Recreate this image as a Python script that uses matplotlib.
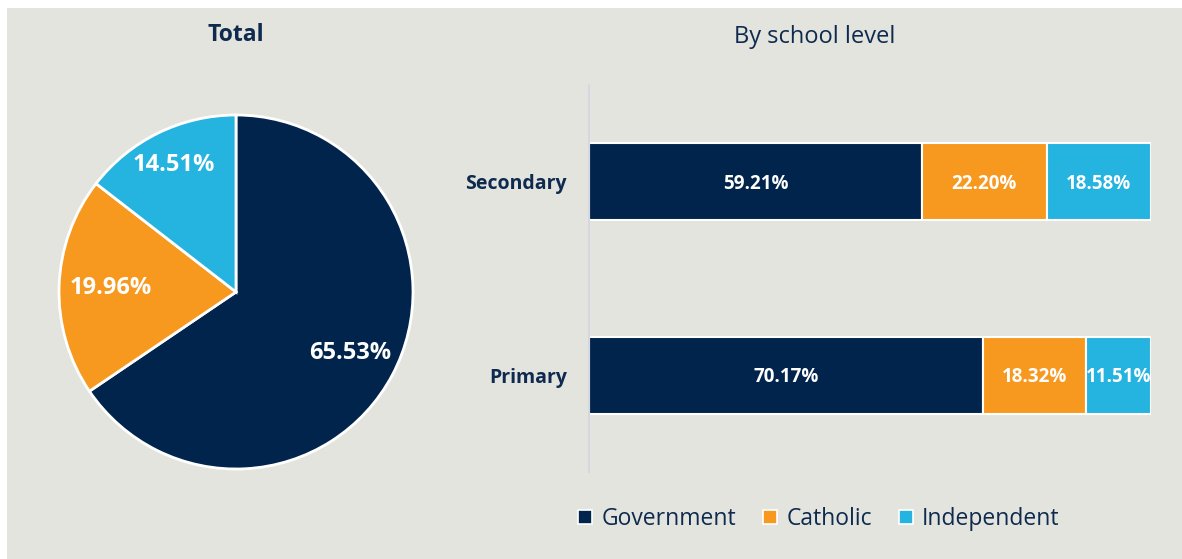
import matplotlib
matplotlib.use("Agg")
import matplotlib.pyplot as plt
from matplotlib.patches import Rectangle, Patch

# Share of school students by sector
sectors = ["Government", "Catholic", "Independent"]
total_share = [65.53, 19.96, 14.51]
levels = ["Primary", "Secondary"]
level_share = {
    "Government": [70.17, 59.21],
    "Catholic": [18.32, 22.20],
    "Independent": [11.51, 18.58],
}

colors = {"Government": "#00244b", "Catholic": "#f8991f", "Independent": "#25b3e0"}
navy = "#0e2a4e"
panel_bg = "#e4e4df"

plt.rcParams["font.family"] = ["Open Sans", "DejaVu Sans"]

W, H = 1182, 559
fig = plt.figure(figsize=(W / 100, H / 100), dpi=100, facecolor="white")

# grey panel behind both charts
fig.patches.append(Rectangle((7 / W, 0), 1 - 7 / W, (H - 8) / H,
                             transform=fig.transFigure, facecolor=panel_bg,
                             edgecolor="none", zorder=-10))

# ---- pie: overall share ----
cx, cy, r = 236, 292, 177
pad = 1.01
ax_pie = fig.add_axes([(cx - r * pad) / W, (H - cy - r * pad) / H,
                       2 * r * pad / W, 2 * r * pad / H])
wedges, _, autotexts = ax_pie.pie(
    total_share,
    colors=[colors[s] for s in sectors],
    startangle=90, counterclock=False, radius=1,
    autopct=lambda p: f"{p:.2f}%", pctdistance=0.74,
    wedgeprops=dict(edgecolor="white", linewidth=2),
    textprops=dict(color="white", fontsize=17, fontweight="bold"),
)
# per-slice label distance from the centre
label_dist = [0.73, 0.71, 0.80]
for t, d in zip(autotexts, label_dist):
    x, y = t.get_position()
    t.set_position((x / 0.74 * d, y / 0.74 * d))
ax_pie.set_xlim(-pad, pad)
ax_pie.set_ylim(-pad, pad)
ax_pie.set_aspect("equal")
ax_pie.axis("off")
fig.text(cx / W, (H - 35) / H, "Total", ha="center", va="center",
         fontsize=16.5, fontweight="bold", color=navy)

# ---- stacked bars: by school level ----
ax_bar = fig.add_axes([589 / W, (H - 472) / H, (1151 - 589) / W, (472 - 85) / H])
ax_bar.set_facecolor("none")
ypos = list(range(len(levels)))
left = [0.0] * len(levels)
for s in sectors:
    vals = level_share[s]
    ax_bar.barh(ypos, vals, left=left, height=0.4, color=colors[s],
                edgecolor="white", linewidth=1.5)
    for y, l, v in zip(ypos, left, vals):
        ax_bar.text(l + v / 2, y - 0.01, f"{v:.2f}%", ha="center", va="center",
                    color="white", fontsize=13.5, fontweight="bold")
    left = [a + b for a, b in zip(left, vals)]

ax_bar.set_xlim(0, 100)
ax_bar.set_ylim(-0.5, 1.5)
ax_bar.set_yticks(ypos)
ax_bar.set_yticklabels(levels, fontsize=14, fontweight="bold", color=navy)
ax_bar.tick_params(axis="y", length=0, pad=16)
ax_bar.set_xticks([])
for side in ["top", "right", "bottom"]:
    ax_bar.spines[side].set_visible(False)
ax_bar.spines["left"].set_color("#d5d8df")
ax_bar.spines["left"].set_linewidth(1.5)

fig.text(815 / W, (H - 37) / H, "By school level", ha="center", va="center",
         fontsize=17, color=navy)

handles = [Patch(facecolor=colors[s], edgecolor="white", linewidth=1.2, label=s)
           for s in sectors]
leg = fig.legend(handles=handles, loc="center", bbox_to_anchor=(819 / W, (H - 519) / H),
                 ncol=3, frameon=False, fontsize=16.5, handlelength=0.6,
                 handleheight=0.6, handletextpad=0.4, columnspacing=1.2)
for t in leg.get_texts():
    t.set_color(navy)

fig.savefig("out.png", dpi=100, facecolor="white")
